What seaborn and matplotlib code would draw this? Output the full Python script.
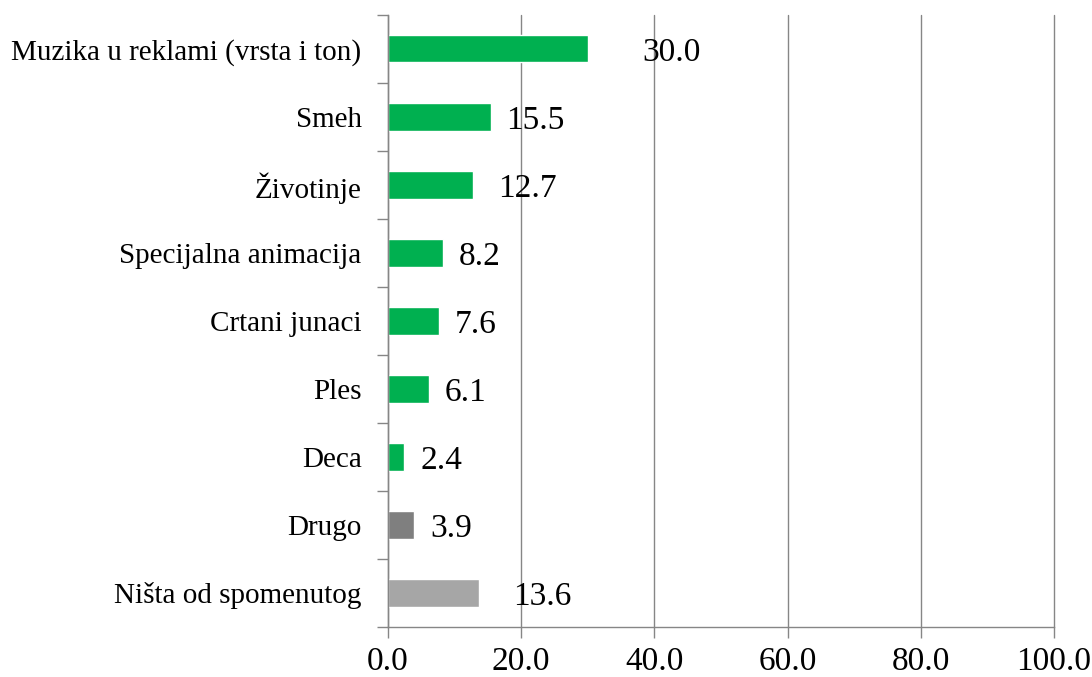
import matplotlib
matplotlib.use("Agg")
import matplotlib.pyplot as plt
import seaborn as sns
import numpy as np
import pandas as pd

categories = ["Muzika u reklami (vrsta i ton)", "Smeh", "Životinje", "Specijalna animacija",
              "Crtani junaci", "Ples", "Deca", "Drugo", "Ništa od spomenutog"]
values = [30.0, 15.5, 12.7, 8.2, 7.6, 6.1, 2.4, 3.9, 13.6]
colors = ["#00B050"] * 7 + ["#7F7F7F", "#A6A6A6"]
label_x = [42.5, 22.1, 21.0, 13.7, 13.1, 11.6, 8.1, 9.5, 23.1]
xticks = [0, 20, 40, 60, 80, 100]

sns.set_theme(style="white")
plt.rcParams['font.family'] = ['Liberation Serif', 'DejaVu Serif']
plt.rcParams['text.color'] = 'black'
plt.rcParams['xtick.color'] = 'black'
plt.rcParams['ytick.color'] = 'black'

df = pd.DataFrame({"cat": categories, "val": values})
fig = plt.figure(figsize=(10.92, 6.77), dpi=100)
ax = fig.add_axes([0.3553, 0.0739, 0.6099, 0.9041])
sns.barplot(data=df, x="val", y="cat", hue="cat", palette=colors, legend=False,
            orient="h", width=0.4, ax=ax, saturation=1)

ax.set_xlim(0, 100)
ax.set_ylim(len(categories) - 0.5, -0.5)
ax.set_xticks(xticks)
ax.set_xticklabels([f"{t:.1f}" for t in xticks], fontsize=24)
ax.tick_params(axis="x", bottom=True, length=8, width=1, color="#868686",
               labelcolor="black", direction="out", pad=6)
ax.tick_params(axis="y", which="major", left=True, length=0, labelsize=21,
               labelcolor="black", pad=19)
ax.set_yticks(np.arange(-0.5, len(categories)), minor=True)
ax.tick_params(axis="y", which="minor", left=True, length=8, width=1,
               color="#868686", direction="out")
ax.set_xlabel("")
ax.set_ylabel("")
ax.xaxis.grid(True, color="#868686", linewidth=1)
for gl in ax.get_xgridlines():
    gl.set_clip_on(False)
ax.set_axisbelow(True)
for s in ["top", "right"]:
    ax.spines[s].set_visible(False)
for s in ["left", "bottom"]:
    ax.spines[s].set_color("#868686")
    ax.spines[s].set_linewidth(1)

for i, (v, lx) in enumerate(zip(values, label_x)):
    ax.text(lx, i, f"{v:.1f}", ha="center", va="center_baseline", fontsize=24, color="black")

fig.savefig("out.png", dpi=100)
